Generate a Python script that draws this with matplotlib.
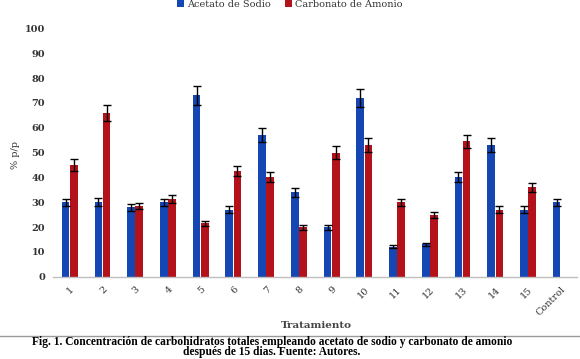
import matplotlib
matplotlib.use("Agg")
import matplotlib.pyplot as plt
import numpy as np

categories = ["1", "2", "3", "4", "5", "6", "7", "8", "9", "10", "11", "12", "13", "14", "15", "Control"]
acetato = [30, 30, 28, 30, 73, 27, 57, 34, 20, 72, 12, 13, 40, 53, 27, 30]
acetato_err = [1.5, 1.6, 1.4, 1.5, 3.7, 1.4, 2.9, 1.7, 1.0, 3.6, 0.6, 0.7, 2.0, 2.7, 1.4, 1.5]
carbonato = [45, 66, 28.5, 31.5, 21.5, 42.5, 40, 20, 50, 53, 30, 25, 54.5, 27, 36, np.nan]
carbonato_err = [2.3, 3.3, 1.4, 1.6, 1.1, 2.1, 2.0, 1.0, 2.5, 2.7, 1.5, 1.2, 2.7, 1.4, 1.8, np.nan]
yticks = [0, 10, 20, 30, 40, 50, 60, 70, 80, 90, 100]

blue = "#1446B4"
red = "#B4121B"
serif = "DejaVu Serif"
W, H = 580.0, 359.0

fig = plt.figure(figsize=(5.8, 3.59), dpi=100)
ax = fig.add_axes([0.092, 0.229, 0.903, 0.692])

x = np.arange(len(categories))
w = 0.235
off = 0.125
ax.bar(x - off, acetato, w, color=blue, yerr=acetato_err,
       error_kw=dict(ecolor="black", elinewidth=1.0, capsize=3, capthick=1.0),
       label="Acetato de Sodio")
ax.bar(x + off, carbonato, w, color=red, yerr=carbonato_err,
       error_kw=dict(ecolor="black", elinewidth=1.0, capsize=3, capthick=1.0),
       label="Carbonato de Amonio")

ax.set_xlim(-0.5, len(categories) - 0.5)
ax.set_ylim(0, 100)
ax.set_yticks(yticks)
ax.set_yticklabels([str(v) for v in yticks], fontfamily=serif, fontsize=7,
                   fontweight="bold", color="#333333")
ax.set_xticks(x)
ax.set_xticklabels(categories, rotation=45, ha="right", rotation_mode="anchor",
                   fontfamily=serif, fontsize=7, color="#333333")
ax.tick_params(axis="both", length=0)
ax.tick_params(axis="y", pad=6)
ax.tick_params(axis="x", pad=6)
for s in ["top", "right", "left"]:
    ax.spines[s].set_visible(False)
ax.spines["bottom"].set_color("#BFBFBF")
ax.spines["bottom"].set_linewidth(1.0)

fig.text(15 / W, 1 - 155 / H, "% p/p", rotation=90, ha="center", va="center",
         fontfamily=serif, fontsize=7, color="#333333")
fig.text(316 / W, 1 - 325 / H, "Tratamiento", ha="center", va="center",
         fontfamily=serif, fontsize=7.5, fontweight="bold", color="#444444")

leg = fig.legend(loc="upper center", bbox_to_anchor=(0.50, 1.025), ncol=2,
                 frameon=False, prop=dict(family=serif, size=7),
                 handlelength=0.7, handleheight=0.7, handletextpad=0.3,
                 columnspacing=1.5)
for t in leg.get_texts():
    t.set_color("#333333")

fig.add_artist(plt.Line2D([0, 1], [1 - 336 / H, 1 - 336 / H], color="#999999",
                          linewidth=1.0, transform=fig.transFigure))
fig.text(272 / W, 1 - 341.5 / H,
         "Fig. 1. Concentración de carbohidratos totales empleando acetato de sodio y carbonato de amonio",
         ha="center", va="center", fontfamily="Liberation Serif", fontsize=8.3,
         fontweight="bold", color="black")
fig.text(272 / W, 1 - 352.5 / H, "después de 15 dias. Fuente: Autores.",
         ha="center", va="center", fontfamily="Liberation Serif", fontsize=8.3,
         fontweight="bold", color="black")

fig.savefig("out.png", dpi=100)
